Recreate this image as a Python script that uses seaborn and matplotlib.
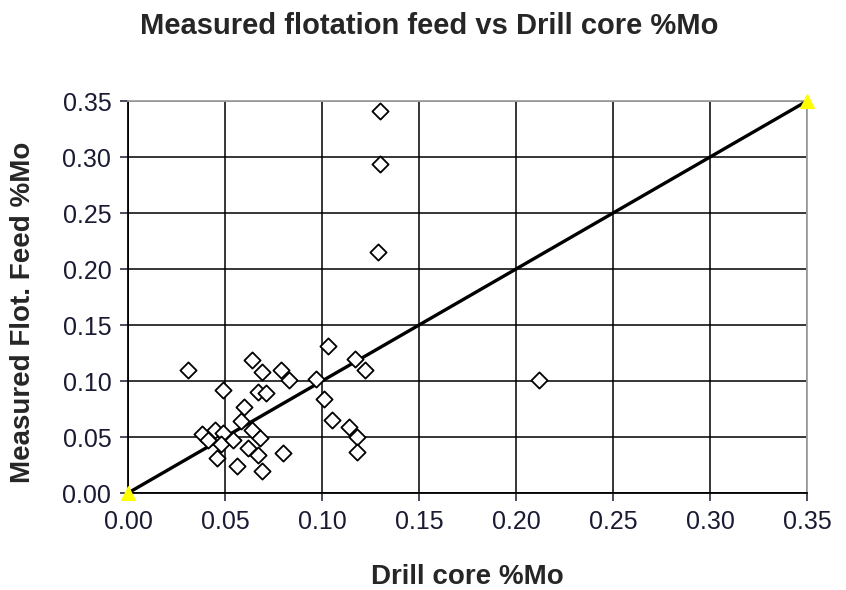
import pandas as pd
import matplotlib.pyplot as plt
import seaborn as sns

sns.set_style('white')
plt.rcParams['font.family'] = ['Liberation Sans', 'DejaVu Sans']

drill_core = [0.031, 0.064, 0.069, 0.079, 0.083, 0.097, 0.103, 0.117, 0.122,
              0.049, 0.067, 0.071, 0.101, 0.060, 0.058, 0.064, 0.105, 0.114,
              0.118, 0.118, 0.038, 0.041, 0.045, 0.049, 0.048, 0.054, 0.068,
              0.062, 0.067, 0.046, 0.056, 0.069, 0.080, 0.130, 0.130, 0.129,
              0.212]
flot_feed = [0.110, 0.119, 0.108, 0.110, 0.101, 0.102, 0.131, 0.120, 0.110,
             0.092, 0.090, 0.089, 0.084, 0.077, 0.064, 0.056, 0.065, 0.059,
             0.050, 0.037, 0.053, 0.047, 0.056, 0.054, 0.044, 0.047, 0.049,
             0.040, 0.034, 0.031, 0.024, 0.020, 0.036, 0.341, 0.294, 0.215,
             0.101]
line_x = [0.0, 0.35]
line_y = [0.0, 0.35]

df = pd.DataFrame({'drill': drill_core, 'feed': flot_feed})
df_line = pd.DataFrame({'x': line_x, 'y': line_y})

fig = plt.figure(figsize=(8.46, 5.90), dpi=100)
ax = fig.add_axes([0.1513, 0.1644, 0.8027, 0.6644])

ax.grid(True, color='black', lw=1.1)
ax.set_axisbelow(True)

sns.lineplot(data=df_line, x='x', y='y', ax=ax, color='black', lw=2.4,
             marker='^', markersize=10, markerfacecolor='#ffff00',
             markeredgecolor='#ffff00', zorder=3, clip_on=False)
sns.scatterplot(data=df, x='drill', y='feed', ax=ax, marker='D', s=68,
                facecolor='white', edgecolor='black', linewidth=1.3, zorder=4,
                clip_on=False)

ax.set_xlim(0, 0.35)
ax.set_ylim(0, 0.35)
ticks = [0.0, 0.05, 0.10, 0.15, 0.20, 0.25, 0.30, 0.35]
ax.set_xticks(ticks)
ax.set_yticks(ticks)
ax.set_xticklabels(['%.2f' % t for t in ticks])
ax.set_yticklabels(['%.2f' % t for t in ticks])
ax.tick_params(axis='both', labelsize=18, length=6, width=1.1,
               direction='out', bottom=True, left=True,
               colors='#1a1a33', pad=6)

for s in ['left', 'bottom']:
    ax.spines[s].set_color('black')
    ax.spines[s].set_linewidth(1.3)
for s in ['top', 'right']:
    ax.spines[s].set_color('#a0a0a0')
    ax.spines[s].set_linewidth(1.3)

ax.set_xlabel('Drill core %Mo', fontsize=20, fontweight='bold')
ax.set_ylabel('Measured Flot. Feed %Mo', fontsize=20, fontweight='bold')
ax.xaxis.set_label_coords(0.5, -0.18)
ax.yaxis.set_label_coords(-0.135, 0.46)
fig.suptitle('Measured flotation feed vs Drill core %Mo', fontsize=21,
             fontweight='bold', x=0.507, y=0.98)

plt.savefig('out.png', dpi=100)
